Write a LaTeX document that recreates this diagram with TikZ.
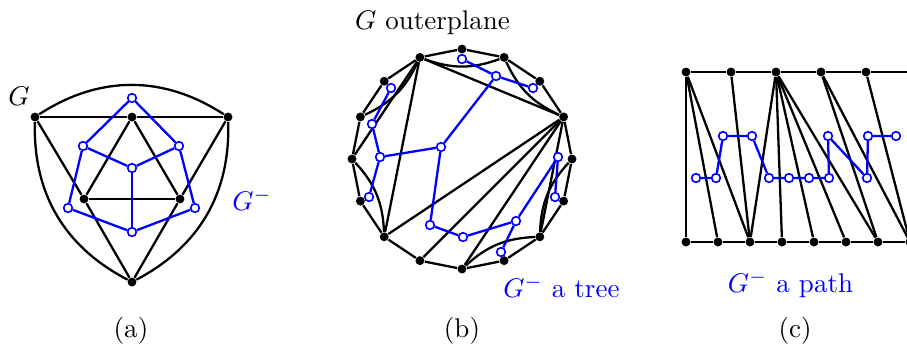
\documentclass[tikz,border=0pt]{standalone}
\usetikzlibrary{backgrounds}
\begin{document}
\begin{tikzpicture}[x=0.37pt,y=-0.37pt,
  vtx/.style={circle,fill=black,inner sep=0pt,minimum size=3.3pt},
  dual/.style={circle,draw=blue,fill=white,line width=0.6pt,inner sep=0pt,minimum size=3.2pt},
  edge/.style={line width=0.85pt,draw=black},
  dedge/.style={line width=0.85pt,draw=blue},
  lbl/.style={inner sep=0pt,anchor=base},
  bl/.style={lbl,text=blue}]
\useasboundingbox (0,0) rectangle (907,349);

% ---------------- (a) ----------------
\node[vtx] (aL) at (35,117) {};
\node[vtx] (aT) at (132,117) {};
\node[vtx] (aR) at (228,117) {};
\node[vtx] (aB) at (132,282) {};
\node[vtx] (aIL) at (84,199) {};
\node[vtx] (aIR) at (180,199) {};
\node[dual] (a1) at (132,98) {};
\node[dual] (a2) at (83,146) {};
\node[dual] (a3) at (179,146) {};
\node[dual] (a4) at (132,168) {};
\node[dual] (a5) at (68,208) {};
\node[dual] (a6) at (195,208) {};
\node[dual] (a7) at (132,232) {};
\begin{scope}[on background layer]
\draw[edge] (aL)--(aT)--(aR);
\draw[edge] (aL) to[bend left=33] (aR);
\draw[edge] (aL) to[bend right=32] (aB);
\draw[edge] (aR) to[bend left=32] (aB);
\draw[edge] (aL)--(aIL)--(aB);
\draw[edge] (aR)--(aIR)--(aB);
\draw[edge] (aT)--(aIL);
\draw[edge] (aT)--(aIR);
\draw[edge] (aIL)--(aIR);
\draw[dedge] (a2)--(a1)--(a3);
\draw[dedge] (a2)--(a4)--(a3);
\draw[dedge] (a2)--(a5)--(a7)--(a6)--(a3);
\draw[dedge] (a4)--(a7);
\end{scope}
\node[lbl] (aG) at (19,105) {$G$};
\node[bl] (aGm) at (252,210) {$G^-$};
\node[lbl] (acap) at (131,337) {(a)};

% ---------------- (b) ----------------
\foreach \k in {1,...,16}
  \node[vtx] (v\k) at ({462+110*cos(90-22.5*(\k-1))},{159-110*sin(90-22.5*(\k-1))}) {};
\node[dual] (b1) at (462,59) {};
\node[dual] (b2) at (496,76) {};
\node[dual] (b3) at (533,88) {};
\node[dual] (b4) at (391,88) {};
\node[dual] (b5) at (372,124) {};
\node[dual] (b6) at (380,157) {};
\node[dual] (b7) at (369,197) {};
\node[dual] (b8) at (441,147) {};
\node[dual] (b9) at (430,225) {};
\node[dual] (b10) at (463,237) {};
\node[dual] (b11) at (516,221) {};
\node[dual] (b12) at (501,252) {};
\node[dual] (b13) at (558,157) {};
\node[dual] (b14) at (555,197) {};
\begin{scope}[on background layer]
\foreach \i [remember=\i as \j (initially 16)] in {1,...,16}
  \draw[edge] (v\j)--(v\i);
\draw[edge] (v16) to[bend right=20] (v2);
\draw[edge] (v2) to[bend right=20] (v4);
\draw[edge] (v14) to[bend right=20] (v16);
\draw[edge] (v11) to[bend right=20] (v13);
\draw[edge] (v7) to[bend right=20] (v9);
\draw[edge] (v5) to[bend right=20] (v7);
\draw[edge] (v16)--(v4);
\draw[edge] (v16)--(v13);
\draw[edge] (v16)--(v11);
\draw[edge] (v4)--(v11);
\draw[edge] (v4)--(v10);
\draw[edge] (v4)--(v9);
\draw[edge] (v4)--(v7);
\draw[dedge] (b1)--(b2)--(b3);
\draw[dedge] (b2)--(b8);
\draw[dedge] (b4)--(b5)--(b6)--(b7);
\draw[dedge] (b6)--(b8)--(b9)--(b10)--(b11)--(b12);
\draw[dedge] (b11)--(b13)--(b14);
\end{scope}
\node[lbl] (bG) at (432.5,29.5) {$G$ outerplane};
\node[bl] (bGm) at (561.5,297.3) {$G^-$ a tree};
\node[lbl] (bcap) at (462,337) {(b)};

% ---------------- (c) ----------------
\foreach \i in {1,...,5}
  \node[vtx] (T\i) at ({686+45*(\i-1)},72) {};
\coordinate (T6) at (911,72);
\foreach \i in {1,...,8}
  \node[vtx] (B\i) at ({686+32*(\i-1)},242) {};
\node[dual] (c1) at (696,178) {};
\node[dual] (c2) at (716,178) {};
\node[dual] (c3) at (723,136) {};
\node[dual] (c4) at (752,136) {};
\node[dual] (c5) at (769,178) {};
\node[dual] (c6) at (789,178) {};
\node[dual] (c7) at (809,178) {};
\node[dual] (c8) at (829,178) {};
\node[dual] (c9) at (828,136) {};
\node[dual] (c10) at (867,178) {};
\node[dual] (c11) at (868,136) {};
\node[dual] (c12) at (896,136) {};
\begin{scope}[on background layer]
\draw[edge] (T1)--(T2)--(T3)--(T4)--(T5)--(T6);
\draw[edge] (B1)--(B2)--(B3)--(B4)--(B5)--(B6)--(B7)--(B8);
\draw[edge] (T1)--(B1);
\draw[edge] (T1)--(B2);
\draw[edge] (T1)--(B3);
\draw[edge] (T2)--(B3);
\foreach \j in {3,...,7}
  \draw[edge] (T3)--(B\j);
\draw[edge] (T4)--(B7);
\draw[edge] (T4)--(B8);
\draw[edge] (T5)--(B8);
\draw[dedge] (c1)--(c2)--(c3)--(c4)--(c5)--(c6)--(c7)--(c8)--(c9)--(c10)--(c11)--(c12);
\end{scope}
\node[bl] (cGm) at (790.5,292.3) {$G^-$ a path};
\node[lbl] (ccap) at (795,337) {(c)};
\end{tikzpicture}
\end{document}
